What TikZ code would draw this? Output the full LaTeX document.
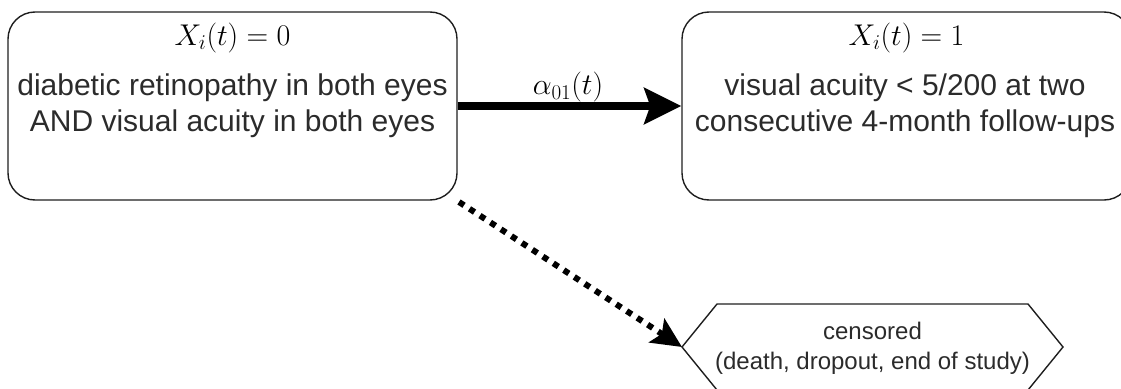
\RequirePackage{fix-cm}
\documentclass[tikz,border=0pt]{standalone}
\usepackage{fontspec}
\setmainfont{Liberation Sans}
\usetikzlibrary{arrows.meta}
\definecolor{txt}{HTML}{2B2B2B}
\definecolor{edge}{HTML}{1E1E1E}
\tikzset{
  statebox/.style={draw=edge, line width=1.4pt, rounded corners=27pt, minimum width=449pt, minimum height=188pt, inner sep=0pt},
  titletext/.style={font=\fontsize{30}{36}\selectfont, text=black, inner sep=0pt},
  bodytext/.style={font=\fontsize{30}{36}\selectfont, text=txt, align=center, inner sep=0pt},
  smalltext/.style={font=\fontsize{24}{30}\selectfont, text=txt, align=center, inner sep=0pt},
  trans/.style={line width=8pt, -{Stealth[length=37pt, width=36pt, inset=6pt]}},
  cens/.style={line width=6pt, dash pattern=on 6pt off 6.5pt, -{Stealth[length=30pt, width=28pt, inset=6pt]}},
  hexline/.style={draw=edge, line width=1.4pt, line join=miter}
}
\begin{document}
\begin{tikzpicture}[x=1pt, y=-1pt]
\useasboundingbox (0,0) rectangle (1121,388);
% state boxes
\node[statebox] (L) at (232.5,106) {};
\node[statebox] (R) at (906.5,106) {};
\node[titletext] (Lt) at (232.5,38) {$X_i(t) = 0$};
\node[titletext] (Rt) at (906.5,38) {$X_i(t) = 1$};
\node[bodytext] (Lb) at (232.5,106) {diabetic retinopathy in both eyes\\AND visual acuity in both eyes};
\node[bodytext] (Rb) at (905,106) {visual acuity < 5/200 at two\\consecutive 4-month follow-ups};
% transition
\draw[trans] (L.east) -- (R.west);
\node[titletext] (alpha) at (568,87) {$\alpha_{01}(t)$};
% censoring hexagon
\coordinate (hL) at (682,347);
\coordinate (hR) at (1063,347);
\coordinate (hTL) at (717,304);
\coordinate (hTR) at (1028,304);
\coordinate (hBL) at (717,390);
\coordinate (hBR) at (1028,390);
\draw[hexline] (hL) -- (hTL) -- (hTR) -- (hR) -- (hBR) -- (hBL) -- cycle;
\node[smalltext] (C) at (872.5,348) {censored\\(death, dropout, end of study)};
\coordinate (cs) at (459,202);
\draw[cens] (cs) -- (hL);
\end{tikzpicture}
\end{document}
